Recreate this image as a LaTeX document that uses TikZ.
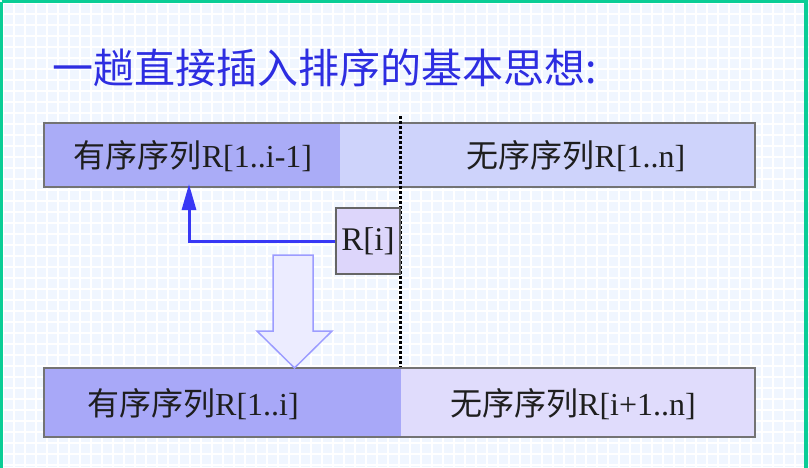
\documentclass[tikz,border=0pt]{standalone}
\usepackage{fontspec}
\setmainfont{Liberation Serif}
\newfontfamily\cjk{Noto Sans CJK SC}
\usetikzlibrary{arrows.meta}
\definecolor{frameg}{RGB}{10,205,150}
\definecolor{gridbg}{RGB}{240,246,255}
\definecolor{titleblue}{RGB}{45,45,225}
\definecolor{topL}{RGB}{170,172,247}
\definecolor{topR}{RGB}{206,211,251}
\definecolor{riF}{RGB}{221,214,251}
\definecolor{botL}{RGB}{168,168,248}
\definecolor{botR}{RGB}{224,220,252}
\definecolor{arrblue}{RGB}{55,55,245}
\definecolor{hollowF}{RGB}{236,236,255}
\definecolor{hollowD}{RGB}{156,156,255}
\definecolor{txt}{RGB}{30,30,30}
\tikzset{
  barpart/.style={inner sep=0pt, outer sep=0pt, anchor=north west, draw=none},
  barframe/.style={draw=gray!90!black, line width=2pt},
  bartext/.style={text=txt, inner sep=0pt, font=\fontsize{32}{38}\selectfont},
  ribox/.style={draw=gray!80!black, line width=2pt, fill=riF, inner sep=0pt, anchor=north west, text=txt, font=\fontsize{33}{38}\selectfont},
  gridline/.style={white, line width=2pt},
  bluearrow/.style={arrblue, line width=3pt, -{Triangle[length=26pt,width=14pt]}},
  hollow/.style={fill=hollowF, draw=hollowD, line width=1.5pt, line join=miter},
  divider/.style={black, line width=3pt, dash pattern=on 2.5pt off 2.5pt}
}
\begin{document}
\begin{tikzpicture}[x=1pt,y=-1pt]
\useasboundingbox (0,0) rectangle (809,467);
% background with faint grid
\fill[gridbg] (0,0) rectangle (809,467);
\foreach \i in {0,...,74} { \draw[gridline] (3+\i*11,0) -- (3+\i*11,467); }
\foreach \j in {0,...,43} { \draw[gridline] (0,3+\j*11) -- (809,3+\j*11); }
% green frame
\draw[frameg, line width=3.5pt] (1.5,1.5) -- (806,1.5) -- (806,470) (1.5,1.5) -- (1.5,470);
% title
\node[anchor=west, text=titleblue, inner sep=0pt, font=\cjk\fontsize{41}{48}\selectfont] (title) at (52,68) {一趟直接插入排序的基本思想:};
% top bar
\node[barpart, fill=topL, minimum width=296pt, minimum height=64pt] (tl) at (44,123) {};
\node[barpart, fill=topR, minimum width=415pt, minimum height=64pt] (tr) at (340,123) {};
\draw[barframe] (tl.north west) rectangle (tr.south east);
\node[bartext] (tlt) at (193,156) {{\cjk 有序序列}R[1..i-1]};
\node[bartext] (trt) at (576,156) {{\cjk 无序序列}R[1..n]};
% bottom bar
\node[barpart, fill=botL, minimum width=357pt, minimum height=69pt] (bl) at (44,368) {};
\node[barpart, fill=botR, minimum width=354pt, minimum height=69pt] (br) at (401,368) {};
\draw[barframe] (bl.north west) rectangle (br.south east);
\node[bartext] (blt) at (193,404) {{\cjk 有序序列}R[1..i]};
\node[bartext] (brt) at (573,404) {{\cjk 无序序列}R[i+1..n]};
% dotted divider
\coordinate (dtop) at (400,116);
\coordinate (dbot) at (400,367);
\draw[divider] (dtop) -- (dbot);
% R[i]
\node[ribox, minimum width=64pt, minimum height=66pt] (ri) at (335,207) {R[i]};
% blue arrow
\coordinate (tip) at (189,184);
\draw[bluearrow] (ri.west) -| (tip);
% hollow arrow
\draw[hollow] (273,255) -- (313,255) -- (313,331) -- (332,331) -- (294.5,368) -- (257,331) -- (273,331) -- cycle;
\end{tikzpicture}
\end{document}
